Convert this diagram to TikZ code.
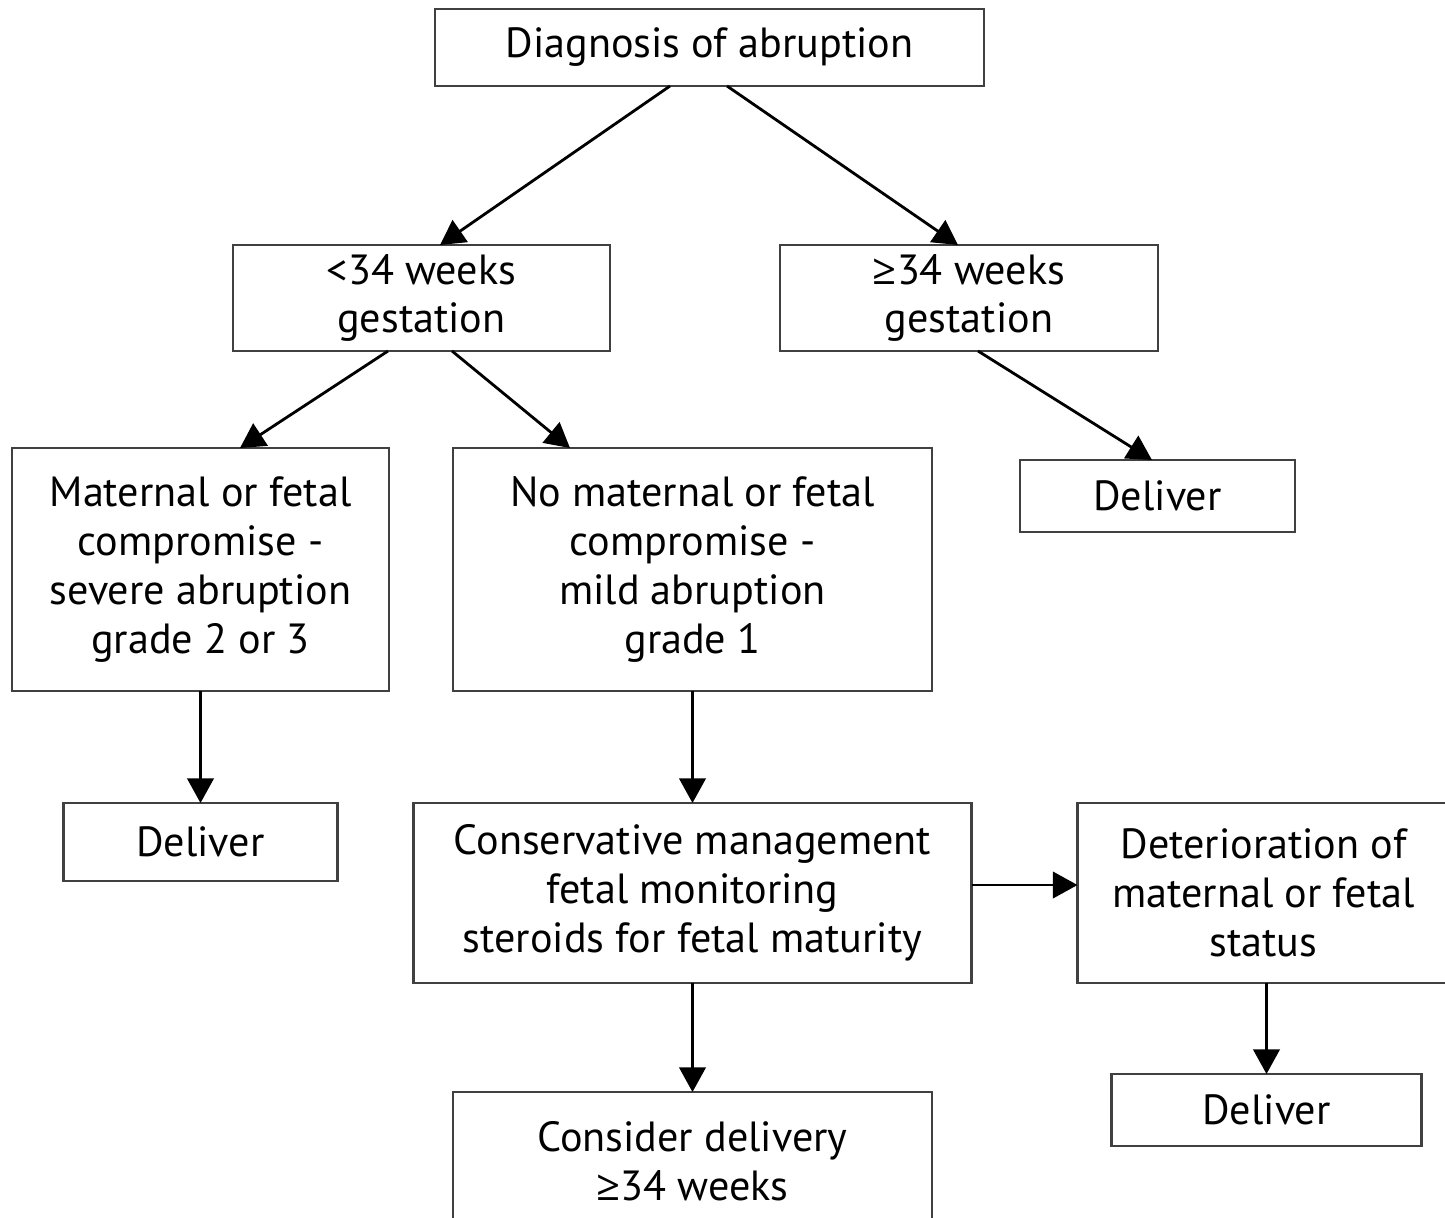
\documentclass[tikz,border=0pt]{standalone}
\usepackage{fontspec}
\setmainfont{PT Sans}
\newfontfamily\geqfont{Open Sans}
\newcommand{\gte}{{\geqfont ≥}}
\usetikzlibrary{arrows.meta,positioning}

\begin{document}
\begin{tikzpicture} [node distance = 2cm, on grid, font=\fontsize{12}{13.9}\selectfont,
    box/.style = {draw=black!75, line width=0.6pt, inner sep=0pt, outer sep=0pt, align=center},
    arr/.style = {-{Triangle[width=7.5pt,length=7pt]}, line width=0.8pt}]
       \useasboundingbox (0,0) rectangle (14.45,-12.17);
       \node (diag) [box, minimum width=5.49cm, minimum height=0.77cm] at (7.095,-0.475) {Diagnosis of abruption};
       \node (lt34) [box, minimum width=3.77cm, minimum height=1.06cm] [below left=2.505cm and 2.88cm of diag] {<34 weeks\\gestation};
       \node (ge34) [box, minimum width=3.78cm, minimum height=1.06cm] [right=5.475cm of lt34] {\gte34 weeks\\gestation};
       \node (sev) [box, minimum width=3.77cm, minimum height=2.43cm] [below left=2.715cm and 2.21cm of lt34] {Maternal or fetal\\compromise -\\severe abruption\\grade 2 or 3};
       \node (mild) [box, minimum width=4.79cm, minimum height=2.43cm] [right=4.92cm of sev] {No maternal or fetal\\compromise -\\mild abruption\\grade 1};
       \node (del1) [box, minimum width=2.75cm, minimum height=0.72cm] [below right=1.98cm and 1.885cm of ge34] {Deliver};
       \node (del2) [box, minimum width=2.74cm, minimum height=0.78cm] [below=2.725cm of sev] {Deliver};
       \node (cons) [box, minimum width=5.58cm, minimum height=1.80cm] [below=3.235cm of mild] {Conservative management\\fetal monitoring\\steroids for fetal maturity};
       \node (det) [box, minimum width=3.72cm, minimum height=1.80cm] [right=5.71cm of cons] {Deterioration of\\maternal or fetal\\status};
       \node (del3) [box, minimum width=3.10cm, minimum height=0.72cm] [below right=2.17cm and 0.03cm of det] {Deliver};
       \node (consid) [box, minimum width=4.79cm, minimum height=1.38cm] [below=2.68cm of cons] {Consider delivery\\\gte34 weeks};
        \path[arr]
        ([xshift=-0.395cm]diag.south) edge ([xshift=0.185cm]lt34.north)
        ([xshift=0.175cm]diag.south) edge ([xshift=-0.11cm]ge34.north)
        ([xshift=-0.335cm]lt34.south) edge ([xshift=0.395cm]sev.north)
        ([xshift=0.305cm]lt34.south) edge ([xshift=-1.225cm]mild.north)
        ([xshift=0.09cm]ge34.south) edge ([xshift=-0.055cm]del1.north)
        (sev.south) edge (sev.south |- del2.north)
        (mild.south) edge (cons.north)
        ([yshift=0.08cm]cons.east) edge ([yshift=0.08cm]det.west)
        (cons.south) edge (consid.north)
        (del3.north |- det.south) edge (del3.north);
     \end{tikzpicture}
\end{document}
